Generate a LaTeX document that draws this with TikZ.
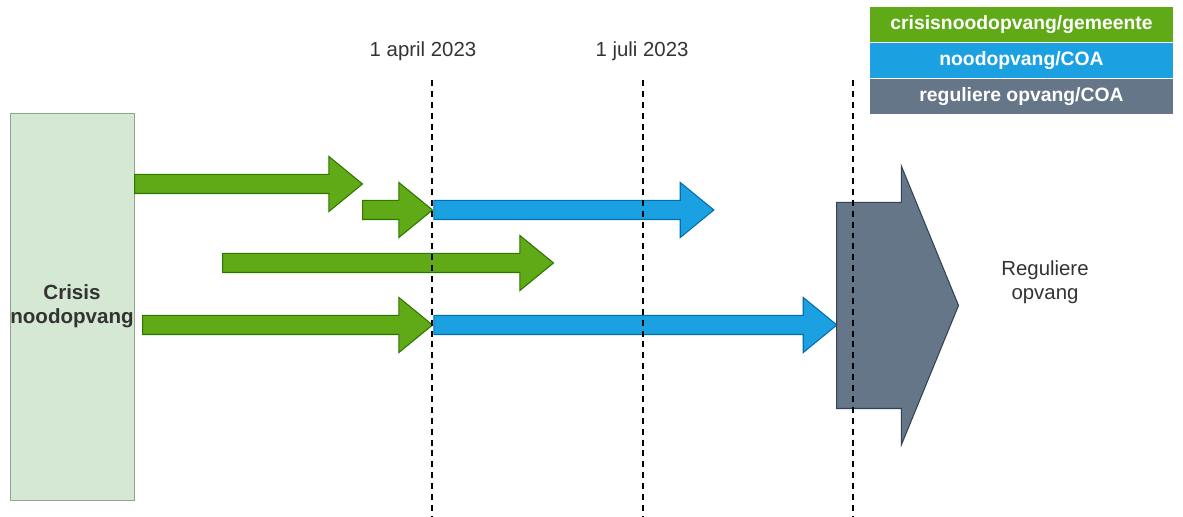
\documentclass[tikz,border=0pt]{standalone}
\usepackage{fontspec}
\setmainfont{Liberation Sans}
\usepackage{tikz}
\usetikzlibrary{shapes.arrows, positioning}

\definecolor{crisisgreen}{HTML}{60A917}
\definecolor{greenline}{HTML}{2D7600}
\definecolor{coablue}{HTML}{1BA1E2}
\definecolor{blueline}{HTML}{006EAF}
\definecolor{slate}{HTML}{647687}
\definecolor{slateline}{HTML}{314354}
\definecolor{boxfill}{HTML}{D5E8D4}
\definecolor{boxline}{HTML}{8FA68C}
\definecolor{darktext}{HTML}{333333}

\tikzstyle{crisis} = [rectangle, 
minimum width=2.48cm, 
minimum height=7.74cm, 
inner sep=0pt, 
text centered, align=center, 
draw=boxline, 
fill=boxfill, text=darktext, 
font=\bfseries\fontsize{11.7}{13.7}\selectfont]
\tikzstyle{blockarrow} = [single arrow, 
single arrow head extend=0.36cm, 
single arrow tip angle=78.6, 
minimum width=1.08cm, 
inner xsep=0pt, inner ysep=0.18cm, anchor=tail, 
line width=0.6pt]
\tikzstyle{greenarrow} = [blockarrow, fill=crisisgreen, draw=greenline]
\tikzstyle{bluearrow} = [blockarrow, fill=coablue, draw=blueline]
\tikzstyle{legend} = [rectangle, 
minimum width=6.06cm, 
minimum height=0.70cm, 
inner sep=0pt, 
text=white, 
font=\bfseries\fontsize{11}{13}\selectfont]
\tikzstyle{datelabel} = [text=darktext, align=center, font=\fontsize{11.6}{13.7}\selectfont]
\tikzstyle{deadline} = [line width=0.7pt, dash pattern=on 3.4pt off 2.8pt]

\begin{document}
\begin{tikzpicture}

\useasboundingbox (0,0) rectangle (23.66,10.34);

\node (crisis) [crisis] at (1.44,4.21) {Crisis\\noodopvang};

% crisisnoodopvang tot 1 april
\node (ga) [greenarrow, minimum height=4.56cm] at (2.68,6.66) {};
\node (gb) [greenarrow, minimum height=1.40cm] at (7.24,6.14) {};
\node (gc) [greenarrow, minimum height=6.62cm] at (4.44,5.08) {};
\node (gd) [greenarrow, minimum height=5.80cm] at (2.84,3.84) {};

% noodopvang COA
\node (bb) [bluearrow, minimum height=5.60cm] at (gb.tip) {};
\node (bd) [bluearrow, minimum height=8.06cm] at (gd.tip) {};

% reguliere opvang
\node (regular) [single arrow, 
single arrow head extend=0.73cm, 
single arrow tip angle=135.4, 
minimum width=5.56cm, minimum height=2.44cm, 
inner xsep=0pt, inner ysep=2.05cm, anchor=tail, 
fill=slate, draw=slateline, line width=0.6pt] at (16.72,4.23) {};
\node (regtext) [datelabel] at (20.9,4.70) {Reguliere\\opvang};

% tijdlijn
\node (april) [datelabel] at (8.46,9.32) {1 april 2023};
\node (juli) [datelabel] at (12.84,9.32) {1 juli 2023};
\coordinate (apriltop) at (8.64,8.74);
\coordinate (aprilbot) at (8.64,0);
\coordinate (julitop) at (12.86,8.74);
\coordinate (julibot) at (12.86,0);
\coordinate (endtop) at (17.06,8.74);
\coordinate (endbot) at (17.06,0);
\draw[deadline] (apriltop) -- (aprilbot);
\draw[deadline] (julitop) -- (julibot);
\draw[deadline] (endtop) -- (endbot);

% legenda
\node (legcrisis) [legend, fill=crisisgreen] at (20.43,9.84) {crisisnoodopvang/gemeente};
\node (legcoa) [legend, fill=coablue, below=0pt of legcrisis] {noodopvang/COA};
\node (legreg) [legend, fill=slate, below=0pt of legcoa] {reguliere opvang/COA};

\end{tikzpicture}
\end{document}
